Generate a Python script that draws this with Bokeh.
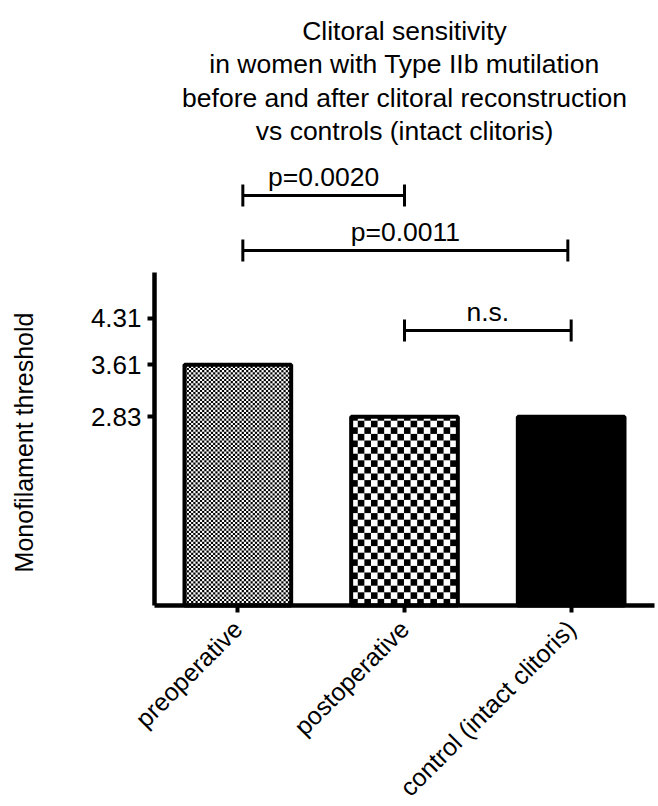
import math
import numpy as np
from bokeh.plotting import figure
from bokeh.models import Range1d, FixedTicker
from bokeh.core.properties import value
from bokeh.embed import file_html
from bokeh.resources import INLINE

# ---- data ----
categories = ["preoperative", "postoperative", "control (intact clitoris)"]
thresholds = [3.61, 2.83, 2.83]
y_ticks = [2.83, 3.61, 4.31]
y_tick_labels = ["2.83", "3.61", "4.31"]
title_lines = ["Clitoral sensitivity",
               "in women with Type IIb mutilation",
               "before and after clitoral reconstruction",
               "vs controls (intact clitoris)"]
comp_from = ["preoperative", "preoperative", "postoperative"]
comp_to = ["postoperative", "control (intact clitoris)", "control (intact clitoris)"]
comp_labels = ["p=0.0020", "p=0.0011", "n.s."]
comp_levels = [6.15, 5.325, 4.125]

# ---- styling / layout ----
FONT = "Liberation Sans"
W, H = 658, 806
KX = 500 / 3.0            # px per x unit
KY = 66.667               # px per y unit
X0 = -154 / KX            # data x at the canvas' left edge
Y1 = 605 / KY             # data y at the canvas' top edge
BAR_W = 0.64
checker_px = [2.2, 6.6, None]   # checker cell size per bar (None = solid)
solid_fill = ["white", "white", "black"]

p = figure(width=W, height=H, output_backend="svg", toolbar_location=None,
           x_range=Range1d(X0, X0 + W / KX), y_range=Range1d(Y1 - H / KY, Y1),
           min_border_left=0, min_border_right=0, min_border_top=0,
           min_border_bottom=0)
p.outline_line_color = None
p.xgrid.visible = False
p.ygrid.visible = False
p.background_fill_color = "white"
p.border_fill_color = "white"

xs = [i + 0.5 for i in range(len(categories))]

# bar fills
p.vbar(x=xs, top=thresholds, bottom=0, width=BAR_W, fill_color=solid_fill, line_color=None)

# checker fills
L, R, B, T = [], [], [], []
for xc, top, cell in zip(xs, thresholds, checker_px):
    if cell is None:
        continue
    cw, ch = cell / KX, cell / KY
    left0 = xc - BAR_W / 2
    nx = int(math.ceil(BAR_W / cw))
    ny = int(math.ceil(top / ch))
    ii, jj = np.meshgrid(np.arange(nx), np.arange(ny))
    m = ((ii + jj) % 2) == 0
    ii, jj = ii[m], jj[m]
    l = left0 + ii * cw
    r = np.minimum(l + cw, xc + BAR_W / 2)
    b = jj * ch
    t = np.minimum(b + ch, top)
    L += list(l); R += list(r); B += list(b); T += list(t)
p.quad(left=L, right=R, bottom=B, top=T, fill_color="black", line_color=None)

# bar outlines
p.vbar(x=xs, top=thresholds, bottom=0, width=BAR_W, fill_color=None,
       line_color="black", line_width=4)

# comparison brackets
cx = {c: i + 0.5 for i, c in enumerate(categories)}
cap = 11 / KY
x0 = [cx[a] + (0.03 if a == categories[0] else 0.0) for a in comp_from]
x1 = [cx[b] - (0.02 if (a == categories[0] and b == categories[2]) else 0.0)
      for a, b in zip(comp_from, comp_to)]
p.segment(x0=x0, y0=comp_levels, x1=x1, y1=comp_levels, line_color="black", line_width=3)
p.segment(x0=x0, y0=[l - cap for l in comp_levels], x1=x0, y1=[l + cap for l in comp_levels],
          line_color="black", line_width=3)
p.segment(x0=x1, y0=[l - cap for l in comp_levels], x1=x1, y1=[l + cap for l in comp_levels],
          line_color="black", line_width=3)
p.text(x=[(a + b) / 2 for a, b in zip(x0, x1)], y=[l + 18 / KY for l in comp_levels],
       text=comp_labels, text_font=value(FONT), text_font_size=value("26.5px"),
       text_align="center", text_baseline="alphabetic", text_color="black")

# title
p.text(x=[1.5] * len(title_lines),
       y=[(605 - 30 - 33.6 * i) / KY for i in range(len(title_lines))],
       text=title_lines, text_font=value(FONT), text_font_size=value("26.5px"),
       text_align="center", text_baseline="alphabetic", text_color="black")

# axes (fixed at the data origin)
ya = p.yaxis[0]
ya.fixed_location = 0
ya.bounds = (0, 5)
ya.ticker = FixedTicker(ticks=y_ticks)
ya.major_label_overrides = {t: l for t, l in zip(y_ticks, y_tick_labels)}
ya.axis_label = "Monofilament  threshold"

xa = p.xaxis[0]
xa.fixed_location = 0
xa.bounds = (0, 3)
xa.ticker = FixedTicker(ticks=xs)
xa.major_label_overrides = {x: c for x, c in zip(xs, categories)}
xa.major_label_orientation = math.pi / 4

for ax in (xa, ya):
    ax.minor_tick_line_color = None
    ax.axis_line_width = 4.5
    ax.axis_line_color = "black"
    ax.major_tick_line_width = 4
    ax.major_tick_line_color = "black"
    ax.major_tick_in = 0
    ax.major_tick_out = 7
    ax.major_label_standoff = 6
    ax.major_label_text_font = FONT
    ax.major_label_text_font_size = "26px"
    ax.major_label_text_color = "black"
    ax.axis_label_text_font = FONT
    ax.axis_label_text_font_size = "25px"
    ax.axis_label_text_font_style = "normal"
    ax.axis_label_text_color = "black"
ya.axis_label_standoff = 50
xa.major_label_text_font_size = "25px"
xa.major_label_standoff = 12

open("out.html", "w").write(file_html(p, INLINE))
